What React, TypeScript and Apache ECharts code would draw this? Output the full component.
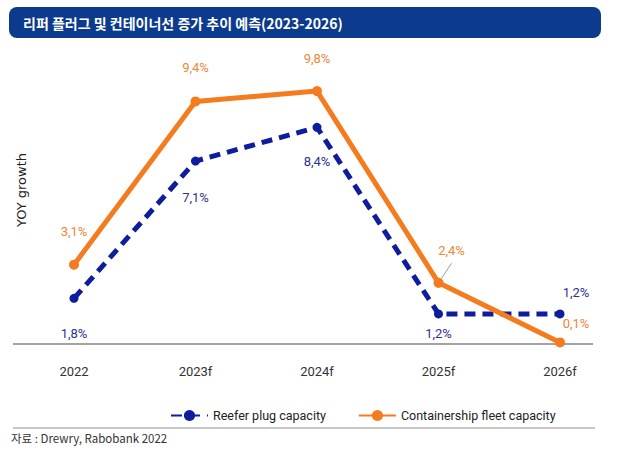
import React, { useEffect, useRef } from "react";
import * as echarts from "echarts";

const categories = ["2022", "2023f", "2024f", "2025f", "2026f"];
const reeferValues = [1.8, 7.1, 8.4, 1.2, 1.2];
const fleetValues = [3.1, 9.4, 9.8, 2.4, 0.1];
const reeferLabels = ["1,8%", "7,1%", "8,4%", "1,2%", "1,2%"];
const fleetLabels = ["3,1%", "9,4%", "9,8%", "2,4%", "0,1%"];
const seriesNames = ["Reefer plug capacity", "Containership fleet capacity"];
const titleText = "리퍼 플러그 및 컨테이너선 증가 추이 예측(2023-2026)";
const sourceText = "자료 : Drewry, Rabobank 2022";
const yAxisTitle = "YOY growth";

const NARROW = "'Liberation Sans Narrow', 'Arial Narrow', 'Roboto', sans-serif";
const BLUE = "#0e1c9e";
const BLUE_TEXT = "#2c3192";
const ORANGE = "#f57b1f";
const ORANGE_TEXT = "#ef8536";

// label placement per point: [position, distance, offsetX]
const fleetLabelPos: [string, number, number][] = [
  ["top", 22, 0],
  ["top", 22, 0],
  ["top", 21, 0],
  ["top", 21, 13],
  ["top", 7, 16],
];
const reeferLabelPos: [string, number, number][] = [
  ["bottom", 24, 0],
  ["bottom", 25, 0],
  ["bottom", 23, 0],
  ["bottom", 9, 0],
  ["top", 10, 16],
];

export default function App() {
  const ref = useRef<HTMLDivElement>(null);
  useEffect(() => {
    document.body.style.margin = "0";
    if (!ref.current) return;
    const chart = echarts.init(ref.current, null, { renderer: "svg" });
    const fleetData = fleetValues.map((v, i) => ({
      value: v,
      label: {
        position: fleetLabelPos[i][0],
        distance: fleetLabelPos[i][1],
        offset: [fleetLabelPos[i][2], 0],
        formatter: fleetLabels[i],
      },
      labelLine:
        i === 3
          ? { show: true, lineStyle: { color: "#999", width: 1 } }
          : undefined,
    }));
    const reeferData = reeferValues.map((v, i) => ({
      value: v,
      label: {
        position: reeferLabelPos[i][0],
        distance: reeferLabelPos[i][1],
        offset: [reeferLabelPos[i][2], 0],
        formatter: reeferLabels[i],
      },
    }));
    chart.setOption({
      animation: false,
      backgroundColor: "#ffffff",
      grid: { left: 74, right: 63, top: 60, bottom: 112 },
      xAxis: {
        type: "category",
        data: categories,
        boundaryGap: false,
        axisLine: { show: false },
        axisTick: { show: false },
        axisLabel: {
          margin: 20,
          fontSize: 13,
          color: "#333",
          fontFamily: NARROW,
        },
      },
      yAxis: {
        type: "value",
        min: 0,
        max: 11,
        show: false,
        splitLine: { show: false },
      },
      legend: {
        left: 165,
        top: 404,
        itemGap: 32,
        itemWidth: 37,
        itemHeight: 14,
        textStyle: { fontSize: 12.5, color: "#222", fontFamily: NARROW },
        data: seriesNames,
      },
      series: [
        {
          name: seriesNames[0],
          type: "line",
          data: reeferData,
          symbol: "circle",
          symbolSize: 9,
          z: 3,
          lineStyle: { color: BLUE, width: 5, type: [11, 7], cap: "butt" },
          itemStyle: { color: BLUE },
          label: {
            show: true,
            color: BLUE_TEXT,
            fontSize: 13,
            fontFamily: NARROW,
          },
        },
        {
          name: seriesNames[1],
          type: "line",
          data: fleetData,
          symbol: "circle",
          symbolSize: 10,
          z: 4,
          lineStyle: { color: ORANGE, width: 5 },
          itemStyle: { color: ORANGE },
          label: {
            show: true,
            color: ORANGE_TEXT,
            fontSize: 13,
            fontFamily: NARROW,
          },
        },
      ],
      graphic: [
        {
          type: "rect",
          shape: { x: 9, y: 7, width: 592, height: 31, r: 8 },
          style: { fill: "#0c3a8d" },
          z: 1,
        },
        {
          type: "text",
          x: 23,
          y: 23,
          z: 2,
          style: {
            text: titleText,
            fill: "#ffffff",
            fontSize: 14,
            fontWeight: "bold",
            fontFamily: "'Noto Sans CJK KR', sans-serif",
            verticalAlign: "middle",
            align: "left",
          },
        },
        {
          type: "text",
          x: 21,
          y: 190,
          rotation: Math.PI / 2,
          style: {
            text: yAxisTitle,
            fill: "#222",
            fontSize: 13,
            fontFamily: "'DejaVu Sans', sans-serif",
            align: "center",
            verticalAlign: "middle",
          },
        },
        {
          type: "line",
          shape: { x1: 13, y1: 344, x2: 593, y2: 344 },
          style: { stroke: "#a3a3a3", lineWidth: 2 },
          z: 0,
        },
        {
          type: "line",
          shape: { x1: 13, y1: 428, x2: 595, y2: 428 },
          style: { stroke: "#b5b5b5", lineWidth: 1.5 },
        },
        {
          type: "text",
          x: 11,
          y: 438,
          style: {
            text: sourceText,
            fill: "#333",
            fontSize: 11.5,
            fontFamily: "'Noto Sans CJK KR', sans-serif",
            verticalAlign: "middle",
            align: "left",
          },
        },
      ],
    });
    return () => chart.dispose();
  }, []);
  return <div ref={ref} style={{ width: 623, height: 457 }} />;
}
